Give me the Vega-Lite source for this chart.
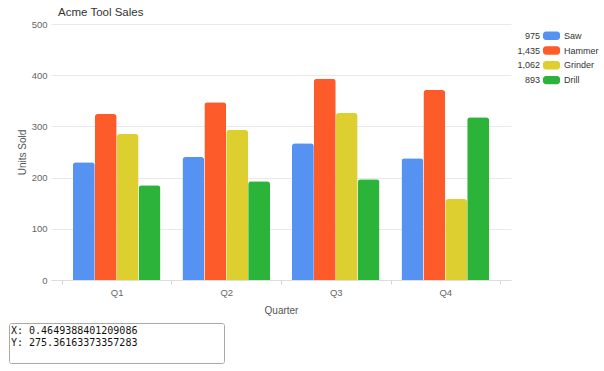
{
  "$schema": "https://vega.github.io/schema/vega-lite/v6.json",
  "padding": {"left": 8, "top": 6, "right": 0, "bottom": 0},
  "background": "white",
  "datasets": {
    "sales": [
      {"quarter": "Q1", "tool": "Saw", "units": 230},
      {"quarter": "Q1", "tool": "Hammer", "units": 324},
      {"quarter": "Q1", "tool": "Grinder", "units": 285},
      {"quarter": "Q1", "tool": "Drill", "units": 185},
      {"quarter": "Q2", "tool": "Saw", "units": 240},
      {"quarter": "Q2", "tool": "Hammer", "units": 347},
      {"quarter": "Q2", "tool": "Grinder", "units": 293},
      {"quarter": "Q2", "tool": "Drill", "units": 193},
      {"quarter": "Q3", "tool": "Saw", "units": 267},
      {"quarter": "Q3", "tool": "Hammer", "units": 393},
      {"quarter": "Q3", "tool": "Grinder", "units": 326},
      {"quarter": "Q3", "tool": "Drill", "units": 197},
      {"quarter": "Q4", "tool": "Saw", "units": 238},
      {"quarter": "Q4", "tool": "Hammer", "units": 371},
      {"quarter": "Q4", "tool": "Grinder", "units": 158},
      {"quarter": "Q4", "tool": "Drill", "units": 318}
    ],
    "readout": [
      {"row": 1, "line": "X: 0.4649388401209086"},
      {"row": 2, "line": "Y: 275.36163373357283"}
    ]
  },
  "config": {
    "view": {"stroke": null},
    "font": "Liberation Sans",
    "axis": {"labelFont": "Liberation Sans", "titleFont": "Liberation Sans", "titleFontWeight": "normal", "labelFontSize": 9.5, "titleFontSize": 10, "labelColor": "#666", "titleColor": "#555"}
  },
  "spacing": 6,
  "vconcat": [
    {
      "spacing": 6,
      "hconcat": [
        {
          "width": 502,
          "height": 256,
          "data": {"name": "sales"},
          "title": {"text": "Acme Tool Sales", "anchor": "start", "frame": "group", "dx": 49, "offset": 1, "fontSize": 11.5, "fontWeight": "normal", "color": "#333", "font": "Liberation Sans"},
          "mark": {"type": "bar", "cornerRadiusTopLeft": 3, "cornerRadiusTopRight": 3},
          "encoding": {
            "x": {"field": "quarter", "type": "nominal", "title": "Quarter",
              "scale": {"paddingInner": 0, "paddingOuter": 0.1, "range": [42, 502]},
              "axis": {"labelAngle": 0, "tickBand": "extent", "tickSize": 4, "tickColor": "#d4d4d4", "domainColor": "#dddddd", "labelPadding": 3, "titlePadding": 9, "grid": false}},
            "xOffset": {"field": "tool", "type": "nominal", "sort": ["Saw", "Hammer", "Grinder", "Drill"], "scale": {"paddingOuter": 0.5, "paddingInner": 0}},
            "y": {"field": "units", "type": "quantitative", "title": "Units Sold",
              "scale": {"domain": [0, 500], "nice": false},
              "axis": {"values": [0, 100, 200, 300, 400, 500], "offset": -42, "ticks": false, "tickSize": 0, "domain": false, "gridColor": "#e9e9e9", "labelPadding": 4, "titlePadding": 4}},
            "color": {"field": "tool", "type": "nominal",
              "scale": {"domain": ["Saw", "Hammer", "Grinder", "Drill"], "range": ["#5592f2", "#fe5b2a", "#ddcf2f", "#2cb33a"]},
              "legend": null}
          }
        },
        {
          "width": 57,
          "height": 70,
          "data": {"name": "sales"},
          "transform": [{"aggregate": [{"op": "sum", "field": "units", "as": "total"}], "groupby": ["tool"]}],
          "encoding": {
            "y": {"field": "tool", "type": "nominal", "sort": ["Saw", "Hammer", "Grinder", "Drill"], "scale": {"type": "band", "paddingInner": 0, "paddingOuter": 0.365, "align": 0.4}, "axis": null}
          },
          "layer": [
            {
              "mark": {"type": "text", "align": "right", "baseline": "middle", "dx": -2, "fontSize": 9, "color": "#333"},
              "encoding": {
                "x": {"datum": "t", "type": "nominal", "bandPosition": 1, "scale": {"type": "band", "domain": ["t", "s", "n"], "paddingInner": 0, "paddingOuter": 0}, "axis": null},
                "text": {"field": "total", "format": ","}
              }
            },
            {
              "mark": {"type": "bar", "cornerRadius": 3, "width": {"band": 0.9}, "height": {"band": 0.57}},
              "encoding": {
                "x": {"datum": "s", "type": "nominal"},
                "color": {"field": "tool", "type": "nominal", "scale": {"domain": ["Saw", "Hammer", "Grinder", "Drill"], "range": ["#5592f2", "#fe5b2a", "#ddcf2f", "#2cb33a"]}, "legend": null}
              }
            },
            {
              "mark": {"type": "text", "align": "left", "baseline": "middle", "dx": 3, "fontSize": 9, "color": "#333"},
              "encoding": {
                "x": {"datum": "n", "type": "nominal", "bandPosition": 0},
                "text": {"field": "tool"}
              }
            }
          ]
        }
      ]
    },
    {
      "width": 215,
      "height": 40,
      "data": {"name": "readout"},
      "view": {"stroke": "#a9a9a9", "cornerRadius": 2, "fill": "white"},
      "mark": {"type": "text", "align": "left", "baseline": "middle", "font": "DejaVu Sans Mono", "fontSize": 10, "color": "#111", "dx": 2},
      "encoding": {
        "x": {"datum": 0, "type": "quantitative", "scale": {"domain": [0, 1], "nice": false, "zero": false}, "axis": null},
        "y": {"field": "row", "type": "quantitative", "scale": {"domain": [0.3333, 3.6667], "reverse": true, "nice": false, "zero": false}, "axis": null},
        "text": {"field": "line"}
      }
    }
  ]
}
